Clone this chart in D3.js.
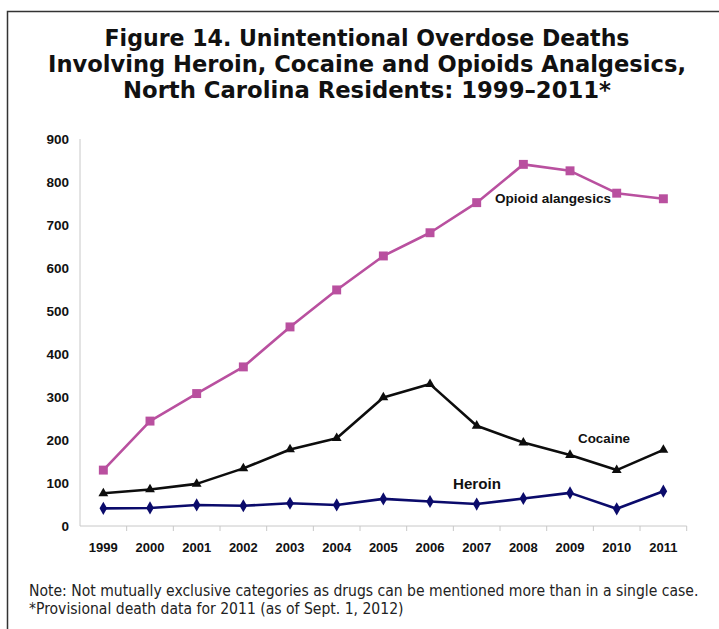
<!DOCTYPE html>
<html>
<head>
<meta charset="utf-8">
<script src="https://cdn.jsdelivr.net/npm/d3@7"></script>
<style>
  html, body { margin: 0; padding: 0; background: #ffffff; }
  svg { display: block; }
</style>
</head>
<body>
<svg id="chart" width="719" height="629"></svg>
<script>
// Unintentional overdose deaths, North Carolina residents, 1999–2011
const years = ["1999","2000","2001","2002","2003","2004","2005","2006","2007","2008","2009","2010","2011"];
const opioidValues  = [130, 244, 308, 370, 463, 549, 628, 682, 752, 841, 826, 774, 761];
const cocaineValues = [76, 85, 98, 134, 178, 204, 299, 330, 233, 194, 165, 130, 177];
const heroinValues  = [41, 42, 49, 47, 53, 49, 63, 57, 51, 64, 77, 40, 81];
const yTicks = [0, 100, 200, 300, 400, 500, 600, 700, 800, 900];

const titleLines = [
  "Figure 14. Unintentional Overdose Deaths",
  "Involving Heroin, Cocaine and Opioids Analgesics,",
  "North Carolina Residents: 1999\u20132011*"
];
const noteLines = [
  "Note: Not mutually exclusive categories as drugs can be mentioned more than in a single case.",
  "*Provisional death data for 2011 (as of Sept. 1, 2012)"
];

const svg = d3.select("#chart");

// outer frame (open on the right and bottom)
svg.append("path")
  .attr("d", "M7.5,629 L7.5,11.5 L719,11.5")
  .attr("fill", "none")
  .attr("stroke", "#333")
  .attr("stroke-width", 1.5);

// title
const titleWidths = [525, 638, 488];
const titleY = [46, 72, 98];
titleLines.forEach((t, i) => {
  svg.append("text")
    .attr("x", 367).attr("y", titleY[i])
    .attr("text-anchor", "middle")
    .attr("font-family", "DejaVu Sans, Verdana, sans-serif")
    .attr("font-weight", "bold")
    .attr("font-size", 23)
    .attr("fill", "#111")
    .attr("textLength", titleWidths[i])
    .attr("lengthAdjust", "spacingAndGlyphs")
    .text(t);
});

// scales
const x = d3.scaleBand().domain(years).range([80, 686.7]);
const y = d3.scaleLinear().domain([0, 900]).range([526, 139]);
const cx = d => x(d) + x.bandwidth() / 2;

// axes
const axisColor = "#c8c8c8";
svg.append("line")
  .attr("x1", 80).attr("x2", 80)
  .attr("y1", y(900)).attr("y2", y(0))
  .attr("stroke", axisColor).attr("stroke-width", 1);
svg.append("line")
  .attr("x1", x.range()[0]).attr("x2", x.range()[1])
  .attr("y1", y(0)).attr("y2", y(0))
  .attr("stroke", axisColor).attr("stroke-width", 1);

// x tick marks at category boundaries
const bounds = years.map(d => x(d)).concat([x(years[years.length - 1]) + x.bandwidth()]);
svg.selectAll(".xtick").data(bounds.slice(1)).enter().append("line")
  .attr("x1", d => d).attr("x2", d => d)
  .attr("y1", y(0)).attr("y2", y(0) + 5)
  .attr("stroke", axisColor);

const labelFont = "Liberation Sans, Arial, sans-serif";
svg.selectAll(".ylab").data(yTicks).enter().append("text")
  .attr("x", 69).attr("y", d => y(d) + 5)
  .attr("text-anchor", "end")
  .attr("font-family", labelFont).attr("font-weight", "bold")
  .attr("font-size", 13.5).attr("fill", "#111")
  .text(d => d);

svg.selectAll(".xlab").data(years).enter().append("text")
  .attr("x", d => cx(d)).attr("y", 552)
  .attr("text-anchor", "middle")
  .attr("font-family", labelFont).attr("font-weight", "bold")
  .attr("font-size", 13).attr("fill", "#111")
  .text(d => d);

// series
const series = [
  { name: "opioid",  values: opioidValues,  color: "#b9509f", symbol: d3.symbolSquare,   size: 80 },
  { name: "cocaine", values: cocaineValues, color: "#0d0d0d", symbol: d3.symbolTriangle, size: 42 },
  { name: "heroin",  values: heroinValues,  color: "#0b0b6b", symbol: d3.symbolDiamond,  size: 50 }
];

const line = d3.line().x((d, i) => cx(years[i])).y(d => y(d));

series.forEach(s => {
  svg.append("path")
    .datum(s.values)
    .attr("d", line)
    .attr("fill", "none")
    .attr("stroke", s.color)
    .attr("stroke-width", 2.6)
    .attr("stroke-linejoin", "round");
  svg.selectAll(".m-" + s.name).data(s.values).enter().append("path")
    .attr("d", d3.symbol().type(s.symbol).size(s.size))
    .attr("transform", (d, i) => `translate(${cx(years[i])},${y(d)})`)
    .attr("fill", s.color);
});

// series labels
const seriesLabels = [
  { text: "Opioid alangesics", x: 495, y: 203, size: 12, width: 116 },
  { text: "Cocaine", x: 578, y: 443, size: 12.5, width: 52 },
  { text: "Heroin", x: 453, y: 489, size: 14.5, width: 48 }
];
seriesLabels.forEach(l => {
  svg.append("text")
    .attr("x", l.x).attr("y", l.y)
    .attr("font-family", labelFont).attr("font-weight", "bold")
    .attr("font-size", l.size).attr("fill", "#111")
    .attr("textLength", l.width).attr("lengthAdjust", "spacingAndGlyphs")
    .text(l.text);
});

// notes: a condensed face, sized so the first line spans the chart width
const noteY = [596, 614];
const noteNodes = noteLines.map((t, i) =>
  svg.append("text")
    .attr("x", 29).attr("y", noteY[i])
    .attr("font-family", "DejaVu Sans Condensed, DejaVu Sans, sans-serif")
    .attr("font-stretch", "condensed")
    .attr("font-size", 14.5).attr("fill", "#222")
    .text(t)
);
const noteSize = 14.5 * 670 / noteNodes[0].node().getComputedTextLength();
noteNodes.forEach(n => n.attr("font-size", noteSize));
</script>
</body>
</html>
